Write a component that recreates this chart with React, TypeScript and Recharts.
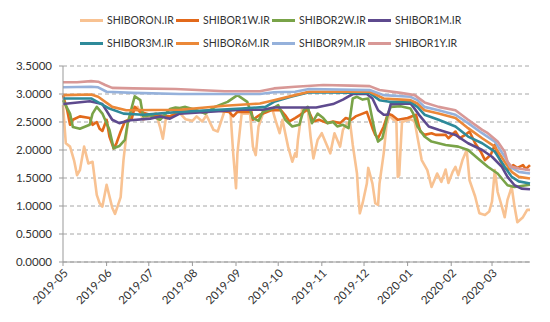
import React from 'react';
import { LineChart, Line, XAxis, YAxis, CartesianGrid, Legend } from 'recharts';

// x values are days counted from 2019-05-01
const monthTicks = [0, 31, 61, 92, 123, 153, 184, 214, 245, 276, 305];
const monthLabels = [
  '2019-05', '2019-06', '2019-07', '2019-08', '2019-09', '2019-10',
  '2019-11', '2019-12', '2020-01', '2020-02', '2020-03',
];
const rateTicks = [0, 0.5, 1, 1.5, 2, 2.5, 3, 3.5];

const shiborON: [number, number][] = [
  [0, 2.8], [2, 2.12], [5, 2.06], [8, 1.8], [10, 1.55], [12, 1.64], [15, 2.06], [18, 1.76],
  [21, 1.79], [24, 1.2], [26, 1.05], [28, 0.99], [31, 1.38], [35, 0.97], [37, 0.86], [41, 1.16],
  [43, 1.82], [46, 2.48], [50, 2.74], [53, 2.77], [57, 2.54], [62, 2.6], [66, 2.66], [69, 2.41],
  [71, 2.2], [73, 2.54], [77, 2.62], [83, 2.66], [87, 2.55], [92, 2.52], [95, 2.6], [99, 2.51],
  [102, 2.62], [107, 2.36], [110, 2.33], [115, 2.71], [119, 2.7], [121, 1.94], [123, 1.32],
  [124, 1.94], [127, 2.65], [133, 2.65], [135, 2.06], [137, 1.91], [139, 2.42], [143, 2.71],
  [149, 2.71], [151, 2.54], [154, 2.3], [156, 2.54], [160, 2.06], [163, 1.79], [165, 1.94],
  [166, 1.88], [167, 2.18], [170, 2.74], [174, 2.74], [176, 2.24], [178, 1.85], [181, 2.18],
  [184, 2.3], [186, 2.18], [190, 1.94], [193, 2.3], [197, 2.06], [199, 2.36], [202, 2.48],
  [204, 2.51], [206, 2.09], [209, 1.58], [210, 1.17], [211, 0.87], [213, 1.05], [216, 1.4],
  [217, 1.68], [220, 1.4], [222, 1.05], [224, 1.02], [225, 1.4], [228, 1.94], [230, 2.45],
  [232, 2.62], [235, 2.54], [237, 2.52], [238, 1.52], [239, 1.55], [241, 2.5], [247, 2.55],
  [250, 2.51], [252, 2.23], [255, 1.82], [259, 1.64], [262, 1.34], [266, 1.58], [269, 1.43],
  [272, 1.65], [274, 1.41], [277, 1.61], [279, 1.7], [281, 1.55], [284, 1.82], [287, 2.0],
  [289, 1.46], [293, 1.17], [296, 0.87], [300, 0.84], [303, 0.9], [305, 1.08], [307, 1.64],
  [309, 1.25], [312, 0.99], [314, 0.8], [316, 1.11], [319, 1.34], [321, 0.99], [323, 0.71],
  [327, 0.8], [330, 0.93], [332, 0.93],
];

const shibor1W: [number, number][] = [
  [0, 2.98], [3, 2.71], [5, 2.45], [7, 2.54], [12, 2.6], [19, 2.57], [21, 2.45], [24, 2.5],
  [26, 2.38], [28, 2.34], [31, 2.54], [33, 2.24], [36, 2.03], [38, 2.12], [41, 2.33], [44, 2.51],
  [49, 2.57], [51, 2.77], [55, 2.68], [62, 2.63], [76, 2.6], [83, 2.68], [94, 2.68], [108, 2.71],
  [118, 2.68], [121, 2.6], [124, 2.68], [134, 2.68], [135, 2.54], [140, 2.63], [148, 2.71],
  [155, 2.71], [158, 2.62], [161, 2.51], [165, 2.57], [170, 2.65], [174, 2.73], [178, 2.51],
  [182, 2.54], [188, 2.48], [192, 2.51], [197, 2.48], [201, 2.57], [205, 2.54], [208, 2.6],
  [213, 2.65], [216, 2.68], [220, 2.39], [222, 2.27], [224, 2.21], [228, 2.42], [231, 2.65],
  [234, 2.62], [238, 2.54], [245, 2.57], [251, 2.63], [254, 2.33], [257, 2.27], [262, 2.3],
  [265, 2.27], [272, 2.27], [274, 2.21], [279, 2.33], [282, 2.21], [286, 2.27], [289, 2.33],
  [293, 2.12], [297, 1.97], [300, 1.82], [304, 1.91], [307, 2.09], [309, 1.91], [313, 1.7],
  [316, 1.64], [320, 1.73], [323, 1.68], [327, 1.73], [329, 1.66], [332, 1.73],
];

const shibor2W: [number, number][] = [
  [0, 2.89], [5, 2.65], [7, 2.41], [12, 2.38], [19, 2.45], [21, 2.65], [24, 2.77], [28, 2.65],
  [33, 2.36], [36, 2.03], [40, 2.07], [44, 2.18], [46, 2.48], [49, 2.77], [51, 2.96], [55, 2.89],
  [57, 2.6], [62, 2.62], [69, 2.54], [76, 2.73], [80, 2.76], [83, 2.75], [87, 2.77], [94, 2.72],
  [101, 2.65], [108, 2.77], [117, 2.86], [124, 2.98], [131, 2.86], [135, 2.57], [139, 2.52],
  [142, 2.68], [149, 2.74], [153, 2.8], [158, 2.54], [163, 2.42], [168, 2.45], [171, 2.71],
  [174, 2.77], [177, 2.48], [181, 2.65], [185, 2.57], [188, 2.48], [192, 2.5], [195, 2.42],
  [199, 2.45], [203, 2.39], [206, 2.92], [209, 2.95], [213, 2.9], [217, 2.92], [220, 2.54],
  [222, 2.3], [224, 2.15], [227, 2.21], [229, 2.42], [231, 2.65], [233, 2.77], [240, 2.78],
  [247, 2.74], [249, 2.65], [252, 2.42], [257, 2.24], [262, 2.15], [272, 2.09], [281, 2.06],
  [288, 2.0], [295, 1.85], [302, 1.7], [309, 1.58], [316, 1.37], [321, 1.34], [332, 1.38],
];

const shibor1M: [number, number][] = [
  [0, 2.82], [19, 2.87], [28, 2.82], [35, 2.54], [40, 2.48], [48, 2.53], [62, 2.56], [69, 2.6],
  [76, 2.56], [83, 2.65], [127, 2.72], [142, 2.72], [150, 2.76], [180, 2.76], [192, 2.82],
  [199, 2.9], [206, 3.0], [216, 3.0], [220, 2.92], [224, 2.71], [228, 2.63], [231, 2.63],
  [233, 2.82], [247, 2.83], [249, 2.77], [254, 2.6], [260, 2.42], [267, 2.36], [279, 2.27],
  [288, 2.12], [298, 2.0], [305, 1.88], [312, 1.7], [316, 1.52], [321, 1.37], [326, 1.31],
  [332, 1.3],
];

const shibor3M: [number, number][] = [
  [0, 2.92], [20, 2.92], [33, 2.74], [43, 2.65], [57, 2.63], [83, 2.68], [127, 2.74], [144, 2.77],
  [150, 2.86], [162, 2.95], [175, 3.03], [218, 3.02], [225, 2.89], [232, 2.86], [247, 2.86],
  [252, 2.77], [257, 2.63], [267, 2.54], [279, 2.42], [288, 2.24], [298, 2.12], [307, 1.97],
  [314, 1.7], [319, 1.52], [324, 1.44], [332, 1.4],
];

const shibor6M: [number, number][] = [
  [0, 2.98], [20, 2.99], [25, 2.95], [35, 2.77], [45, 2.71], [83, 2.72], [115, 2.79], [140, 2.83],
  [150, 2.89], [165, 2.98], [175, 3.04], [218, 3.04], [228, 2.92], [247, 2.89], [252, 2.83],
  [257, 2.71], [267, 2.65], [279, 2.57], [288, 2.39], [298, 2.21], [307, 2.06], [314, 1.79],
  [319, 1.61], [324, 1.52], [332, 1.49],
];

const shibor9M: [number, number][] = [
  [0, 3.12], [20, 3.13], [25, 3.12], [31, 3.04], [50, 3.02], [83, 3.0], [140, 3.0], [150, 3.03],
  [165, 3.04], [175, 3.09], [218, 3.07], [228, 2.98], [247, 2.95], [252, 2.89], [257, 2.77],
  [267, 2.71], [279, 2.63], [288, 2.48], [298, 2.3], [307, 2.15], [314, 1.88], [318, 1.7],
  [324, 1.61], [332, 1.58],
];

const shibor1Y: [number, number][] = [
  [0, 3.21], [10, 3.21], [20, 3.23], [25, 3.22], [30, 3.16], [35, 3.11], [50, 3.1], [80, 3.09],
  [115, 3.05], [140, 3.05], [150, 3.1], [165, 3.13], [185, 3.16], [205, 3.15], [218, 3.14],
  [225, 3.07], [240, 3.02], [250, 2.98], [257, 2.85], [267, 2.77], [279, 2.71], [288, 2.54],
  [298, 2.36], [302, 2.3], [309, 2.15], [314, 1.97], [316, 1.79], [319, 1.7], [324, 1.67],
  [332, 1.64],
];

const seriesList = [
  { name: 'SHIBORON.IR', points: shiborON, color: '#F8C292' },
  { name: 'SHIBOR1W.IR', points: shibor1W, color: '#E2691B' },
  { name: 'SHIBOR2W.IR', points: shibor2W, color: '#79A348' },
  { name: 'SHIBOR1M.IR', points: shibor1M, color: '#5E4A8E' },
  { name: 'SHIBOR3M.IR', points: shibor3M, color: '#2E8A9A' },
  { name: 'SHIBOR6M.IR', points: shibor6M, color: '#EB8838' },
  { name: 'SHIBOR9M.IR', points: shibor9M, color: '#95B1DB' },
  { name: 'SHIBOR1Y.IR', points: shibor1Y, color: '#D89896' },
];

const font = 'Lato, "Liberation Sans", sans-serif';

const LegendBox = () => (
  <div
    style={{
      display: 'flex',
      flexWrap: 'wrap',
      width: 384,
      marginLeft: 72,
      paddingTop: 4,
      rowGap: 7,
      fontFamily: font,
      fontSize: 10.5,
      color: '#333',
    }}
  >
    {seriesList.map((s) => (
      <div key={s.name} style={{ width: 96, height: 16, display: 'flex', alignItems: 'center' }}>
        <span style={{ width: 23, height: 3, background: s.color, marginRight: 4 }} />
        <span>{s.name}</span>
      </div>
    ))}
  </div>
);

export default function App() {
  return (
    <LineChart width={542} height={314} margin={{ top: 0, right: 20, bottom: 0, left: 0 }}>
      <CartesianGrid vertical={false} stroke="#a6a6a6" strokeDasharray="4 3" />
      <XAxis
        dataKey="day"
        type="number"
        domain={[0, 332]}
        ticks={monthTicks}
        interval={0}
        tickFormatter={(d: number) => monthLabels[monthTicks.indexOf(d)]}
        angle={-45}
        textAnchor="end"
        height={60}
        tickSize={4}
        stroke="#999"
        tick={{ fontSize: 11.5, fill: '#333', fontFamily: font }}
      />
      <YAxis
        domain={[0, 3.5]}
        ticks={rateTicks}
        interval={0}
        tickFormatter={(v: number) => v.toFixed(4)}
        width={55}
        tickSize={4}
        tickMargin={7}
        stroke="#999"
        tick={{ fontSize: 11.5, fill: '#333', fontFamily: font }}
      />
      <Legend
        verticalAlign="top"
        height={58}
        content={() => <LegendBox />}
        wrapperStyle={{ top: 0, left: 0, width: 542 }}
      />
      {seriesList.map((s) => (
        <Line
          key={s.name}
          name={s.name}
          data={s.points.map(([day, rate]) => ({ day, rate }))}
          dataKey="rate"
          type="linear"
          stroke={s.color}
          strokeWidth={2.6}
          strokeLinejoin="round"
          dot={false}
          isAnimationActive={false}
        />
      ))}
    </LineChart>
  );
}
